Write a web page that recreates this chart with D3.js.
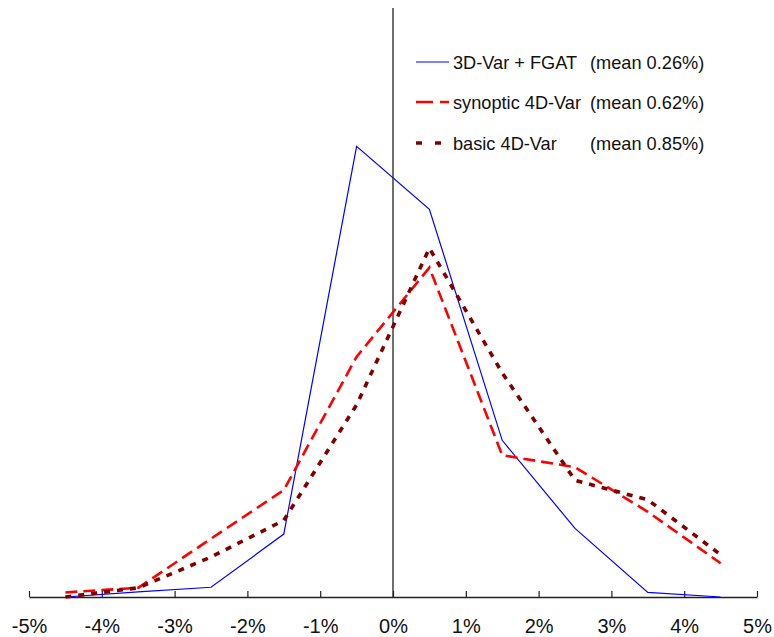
<!DOCTYPE html>
<html>
<head>
<meta charset="utf-8">
<script src="https://cdn.jsdelivr.net/npm/d3@7"></script>
<style>
  html, body { margin: 0; padding: 0; background: #fff; }
  svg { display: block; font-family: Arial, "Liberation Sans", sans-serif; }
</style>
</head>
<body>
<svg id="chart" width="774" height="637"></svg>
<script>
// Bin centres of the departure distribution (%)
const binCentres = [-4.5, -3.5, -2.5, -1.5, -0.5, 0.5, 1.5, 2.5, 3.5, 4.5];

// Frequency in each bin (% of cases)
const fgat3dVar     = [0.0, 0.45, 0.85, 5.5, 39.4, 33.9, 13.7, 6.0, 0.4, 0.0];
const synoptic4dVar = [0.4, 0.8, 5.1, 9.35, 21.0, 28.8, 12.4, 11.35, 7.45, 2.95];
const basic4dVar    = [0.0, 0.8, 3.5, 6.7, 16.8, 30.5, 19.6, 10.2, 8.5, 3.7];

// x-axis ticks (%)
const xTicks = [-5, -4, -3, -2, -1, 0, 1, 2, 3, 4, 5];

// Legend entries
const seriesNames = ["3D-Var + FGAT", "synoptic 4D-Var", "basic 4D-Var"];
const seriesMeans = ["(mean 0.26%)", "(mean 0.62%)", "(mean 0.85%)"];

const svg = d3.select("#chart");

const x = d3.scaleLinear().domain([-5, 5]).range([29, 757]);
const y = d3.scaleLinear().domain([0, 51.5]).range([597, 8]);

const styles = [
  { color: "#0000ff", width: 1.2, dash: null },
  { color: "#ff0000", width: 2.6, dash: "12,6" },
  { color: "#800000", width: 3.6, dash: "6,7" }
];
const seriesValues = [fgat3dVar, synoptic4dVar, basic4dVar];

// vertical zero line
svg.append("line")
  .attr("x1", x(0)).attr("x2", x(0))
  .attr("y1", y(51.5)).attr("y2", y(0))
  .attr("stroke", "#222").attr("stroke-width", 1.3);

// x axis with inward ticks
const xAxis = d3.axisBottom(x)
  .tickValues(xTicks)
  .tickSize(0)
  .tickFormat(d => d + "%");

const gx = svg.append("g")
  .attr("transform", `translate(0,${y(0)})`)
  .call(xAxis);
gx.select(".domain").attr("stroke", "#222").attr("stroke-width", 1.3);
gx.selectAll(".tick line").remove();
gx.selectAll(".tick").append("line")
  .attr("y1", 0).attr("y2", -6)
  .attr("stroke", "#222").attr("stroke-width", 1.2);
gx.selectAll(".tick text")
  .attr("y", 36).attr("dy", 0)
  .attr("font-size", 20)
  .attr("font-family", "Arial, 'Liberation Sans', sans-serif")
  .attr("fill", "#111");

// series lines
const line = d3.line()
  .x((d, i) => x(binCentres[i]))
  .y(d => y(d));

seriesValues.forEach((vals, k) => {
  const s = styles[k];
  svg.append("path")
    .datum(vals)
    .attr("d", line)
    .attr("fill", "none")
    .attr("stroke", s.color)
    .attr("stroke-width", s.width)
    .attr("stroke-dasharray", s.dash)
    .attr("stroke-linejoin", "miter");
});

// legend
const legendRows = [62, 102, 143];
const legend = svg.append("g");
seriesNames.forEach((name, k) => {
  const s = styles[k];
  const yy = legendRows[k];
  legend.append("line")
    .attr("x1", 416).attr("x2", 449)
    .attr("y1", yy).attr("y2", yy)
    .attr("stroke", s.color)
    .attr("stroke-width", s.width)
    .attr("stroke-dasharray", k === 1 ? "17,7" : (k === 2 ? "6,13" : null));
  legend.append("text")
    .attr("x", 453).attr("y", yy + 6.5)
    .attr("font-size", 18.2)
    .attr("fill", "#111")
    .text(name);
  legend.append("text")
    .attr("x", 590).attr("y", yy + 6.5)
    .attr("font-size", 18.2)
    .attr("fill", "#111")
    .text(seriesMeans[k]);
});
</script>
</body>
</html>
